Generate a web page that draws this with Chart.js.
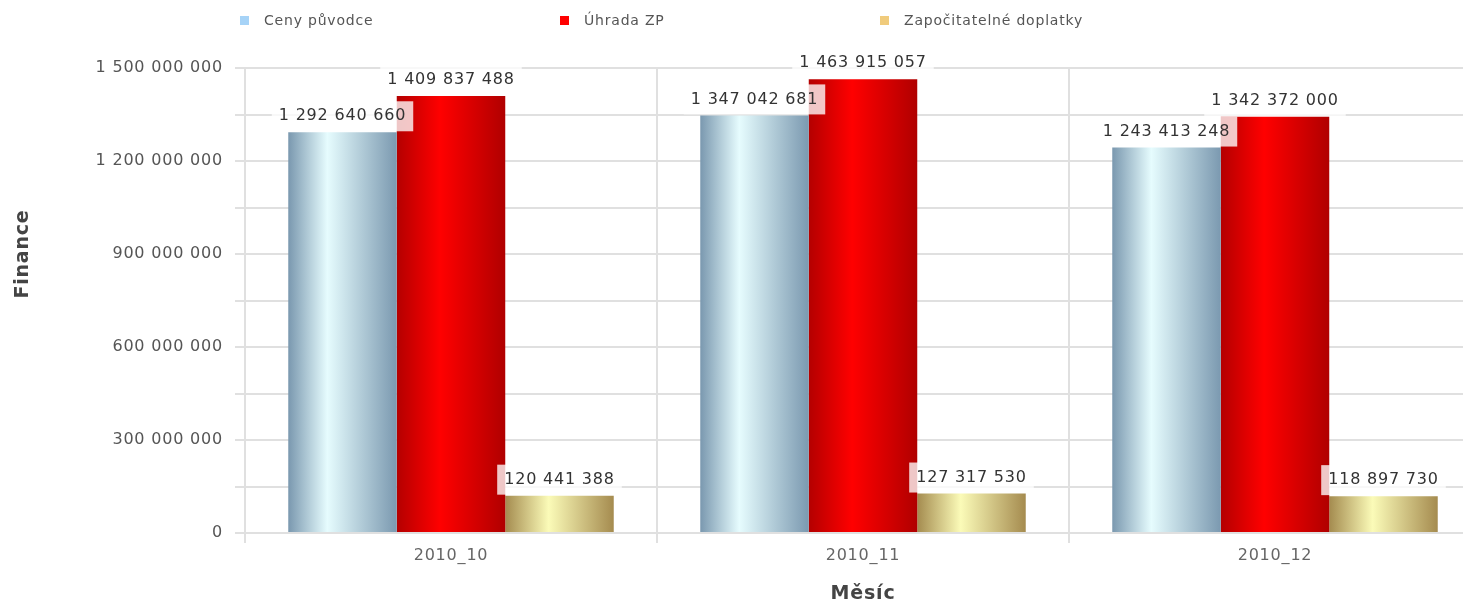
<!DOCTYPE html>
<html>
<head>
<meta charset="utf-8">
<script src="https://cdn.jsdelivr.net/npm/chart.js@4"></script>
<style>
  html, body { margin: 0; padding: 0; background: #fff; overflow: hidden; }
  #wrap { position: relative; width: 1490px; height: 608px; }
  canvas { display: block; }
  #legend { position: absolute; left: 240px; top: 11px; width: 1200px; white-space: nowrap; font-family: "DejaVu Sans"; font-size: 14px; line-height: 18px; color: #555; letter-spacing: 0.8px; }
  #legend .item { display: inline-block; position: relative; width: 320px; height: 18px; }
  #legend .sw { position: absolute; left: 0; top: 5px; width: 9px; height: 9px; }
  #legend .tx { position: absolute; left: 24px; top: 0; }
</style>
</head>
<body>
<div id="wrap">
  <div id="legend"></div>
  <canvas id="c" width="1490" height="608"></canvas>
</div>
<script>
// ---- data ----
const categories = ['2010_10', '2010_11', '2010_12'];
const seriesNames = ['Ceny původce', 'Úhrada ZP', 'Započitatelné doplatky'];
const cenyPuvodce = [1292640660, 1347042681, 1243413248];
const uhradaZP = [1409837488, 1463915057, 1342372000];
const zapocitatelneDoplatky = [120441388, 127317530, 118897730];
const yMin = 0;
const yMax = 1500000000;
const yGridStep = 150000000;
const yLabelStep = 300000000;
const xTitle = 'Měsíc';
const yTitle = 'Finance';

// ---- styles ----
const legendColors = ['#a6d3f7', '#ff0000', '#f0cb7c'];
const barGradients = [
  [[0, '#7a98af'], [0.36, '#e6fcfe'], [1, '#7b99b0']],
  [[0, '#b40000'], [0.4, '#ff0000'], [1, '#b00000']],
  [[0, '#a48b4f'], [0.4, '#fbfbb8'], [1, '#a58b4f']]
];
const gridColor = '#e0e0e0';
const LS = '0.8px';

const fmt = v => String(Math.round(v)).replace(/\B(?=(\d{3})+(?!\d))/g, ' ');

const spacingPlugin = {
  id: 'spacing',
  beforeLayout(chart) { chart.ctx.letterSpacing = LS; },
  beforeDraw(chart) { chart.ctx.letterSpacing = LS; }
};

const gradientPlugin = {
  id: 'barGradient',
  beforeDatasetsDraw(chart) {
    const ctx = chart.ctx;
    chart.data.datasets.forEach((ds, i) => {
      chart.getDatasetMeta(i).data.forEach(el => {
        const { x, width } = el.getProps(['x', 'width'], true);
        const g = ctx.createLinearGradient(x - width / 2, 0, x + width / 2, 0);
        barGradients[i].forEach(([o, c]) => g.addColorStop(o, c));
        el.options.backgroundColor = g;
      });
    });
  }
};

const valueLabelPlugin = {
  id: 'valueLabels',
  afterDatasetsDraw(chart) {
    const ctx = chart.ctx;
    ctx.save();
    ctx.letterSpacing = LS;
    ctx.font = '16px "DejaVu Sans"';
    ctx.textAlign = 'center';
    ctx.textBaseline = 'middle';
    chart.data.datasets.forEach((ds, i) => {
      chart.getDatasetMeta(i).data.forEach((el, j) => {
        const { x, y } = el.getProps(['x', 'y'], true);
        const t = fmt(ds.data[j]);
        const w = ctx.measureText(t).width;
        ctx.fillStyle = 'rgba(255,255,255,0.78)';
        ctx.fillRect(x - w / 2 - 7, y - 31, w + 14, 30);
        ctx.fillStyle = '#333';
        ctx.fillText(t, x, y - 16);
      });
    });
    ctx.restore();
  }
};

const yTitlePlugin = {
  id: 'yTitle',
  afterDraw(chart) {
    const ctx = chart.ctx;
    const a = chart.chartArea;
    ctx.save();
    ctx.letterSpacing = LS;
    ctx.translate(23, a.top + (a.bottom - a.top) * 0.4);
    ctx.rotate(-Math.PI / 2);
    ctx.font = 'bold 19px "DejaVu Sans"';
    ctx.fillStyle = '#444';
    ctx.textAlign = 'center';
    ctx.textBaseline = 'middle';
    ctx.fillText(yTitle, 0, 0);
    ctx.restore();
  }
};

const htmlLegendPlugin = {
  id: 'htmlLegend',
  afterUpdate(chart) {
    const box = document.getElementById('legend');
    box.innerHTML = '';
    chart.data.datasets.forEach((ds, i) => {
      const item = document.createElement('div');
      item.className = 'item';
      const sw = document.createElement('div');
      sw.className = 'sw';
      sw.style.background = legendColors[i];
      const tx = document.createElement('div');
      tx.className = 'tx';
      tx.textContent = ds.label;
      item.appendChild(sw);
      item.appendChild(tx);
      box.appendChild(item);
    });
  }
};

const seriesData = [cenyPuvodce, uhradaZP, zapocitatelneDoplatky];

new Chart(document.getElementById('c'), {
  type: 'bar',
  data: {
    labels: categories,
    datasets: seriesNames.map((name, i) => ({
      label: name,
      data: seriesData[i],
      backgroundColor: ctx => legendColors[ctx.datasetIndex],
      borderWidth: 0,
      categoryPercentage: 0.79,
      barPercentage: 1.0
    }))
  },
  options: {
    responsive: false,
    animation: false,
    layout: { padding: { top: 68, right: 9, left: 0, bottom: 0 } },
    plugins: {
      legend: { display: false },
      tooltip: { enabled: false }
    },
    scales: {
      y: {
        min: yMin,
        max: yMax,
        afterFit: s => { s.width = 245; },
        ticks: {
          stepSize: yGridStep,
          autoSkip: false,
          callback: v => (v % yLabelStep === 0 ? fmt(v) : ''),
          color: '#555',
          font: { family: 'DejaVu Sans', size: 16 },
          padding: 12
        },
        grid: { color: gridColor, lineWidth: 2, tickLength: 10 },
        border: { color: gridColor, width: 2 }
      },
      x: {
        afterFit: s => { s.height = 75; },
        ticks: {
          color: '#666',
          font: { family: 'DejaVu Sans', size: 16 },
          padding: 3
        },
        grid: { color: gridColor, lineWidth: 2, tickLength: 10, offset: true },
        border: { color: gridColor, width: 2 },
        title: {
          display: true,
          text: xTitle,
          color: '#444',
          font: { family: 'DejaVu Sans', size: 19, weight: 'bold' },
          padding: { top: 10, bottom: 3 }
        }
      }
    }
  },
  plugins: [spacingPlugin, gradientPlugin, valueLabelPlugin, yTitlePlugin, htmlLegendPlugin]
});
</script>
</body>
</html>
